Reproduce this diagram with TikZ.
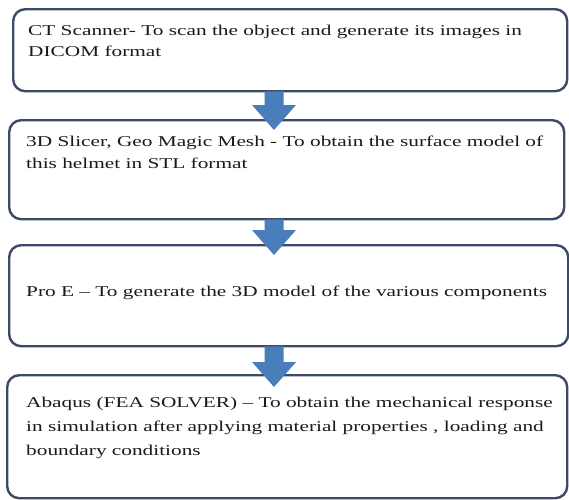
\documentclass[tikz,border=0pt]{standalone}
\usepackage{fontspec}
\newfontfamily\boxfont[FakeStretch=1.42,Ligatures=TeX]{Liberation Serif}
\usetikzlibrary{calc}
\definecolor{boxline}{HTML}{3C4A68}
\definecolor{arrowblue}{HTML}{4A7EBB}
\definecolor{boxtextcol}{HTML}{1A1A1A}
\newcommand\flowarrow[2]{%
  \fill[arrowfill] ($(#1)+(-9.5,-1)$) -- ($(#2)+(-9.5,-25)$) -- ($(#2)+(-22,-25)$) -- (#2)
    -- ($(#2)+(22,-25)$) -- ($(#2)+(9.5,-25)$) -- ($(#1)+(9.5,-1)$) -- cycle;}
\begin{document}
\begin{tikzpicture}[x=1pt,y=-1pt,
  stepbox/.style={draw=boxline, line width=2.4pt, rounded corners=12pt, fill=white, inner sep=0pt, anchor=north west},
  boxtext/.style={font=\boxfont\fontsize{15}{#1}\selectfont, align=left, anchor=north west, inner sep=0pt, text=boxtextcol},
  arrowfill/.style={fill=arrowblue}
]
\useasboundingbox[fill=white] (0,0) rectangle (569,499);
% boxes
\node[stepbox, minimum width=554pt, minimum height=82pt] (b1) at (12,8) {};
\node[stepbox, minimum width=555pt, minimum height=99pt] (b2) at (8,119) {};
\node[stepbox, minimum width=559pt, minimum height=101pt] (b3) at (8,244) {};
\node[stepbox, minimum width=560pt, minimum height=123pt] (b4) at (6,374) {};
% texts
\node[boxtext=21pt] (t1) at (28,25) {CT Scanner- To scan the object and generate its images in\\DICOM format};
\node[boxtext=22pt] (t2) at (26,135.5) {3D Slicer, Geo Magic Mesh - To obtain the surface model of\\this helmet in STL format};
\node[boxtext=22pt] (t3) at (26,286) {Pro E – To generate the 3D model of the various components};
\node[boxtext=24pt] (t4) at (26,397) {Abaqus (FEA SOLVER) – To obtain the mechanical response\\in simulation after applying material properties , loading and\\boundary conditions};
% arrows
\coordinate (ax) at (274,0);
\coordinate (a1s) at (b1.south -| ax);
\coordinate (a1e) at ($(b2.north -| ax)+(0,11)$);
\coordinate (a2s) at (b2.south -| ax);
\coordinate (a2e) at ($(b3.north -| ax)+(0,11)$);
\coordinate (a3s) at (b3.south -| ax);
\coordinate (a3e) at ($(b4.north -| ax)+(0,13)$);
\flowarrow{a1s}{a1e}
\flowarrow{a2s}{a2e}
\flowarrow{a3s}{a3e}
\end{tikzpicture}
\end{document}
